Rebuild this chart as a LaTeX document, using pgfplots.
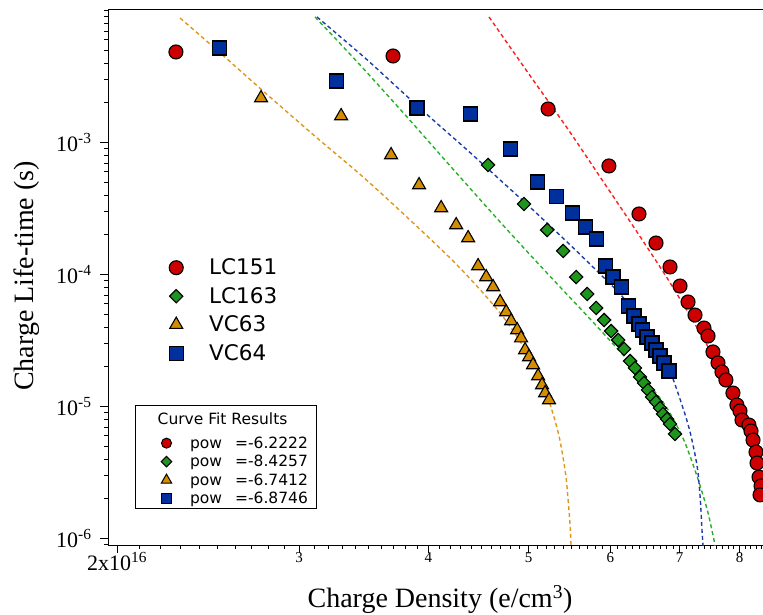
\documentclass[border=0pt]{standalone}
\usepackage{fontspec}
\setmainfont{Liberation Serif}
\newfontfamily\legfont{DejaVu Sans}
\usepackage{pgfplots}
\pgfplotsset{compat=1.18}

\definecolor{cRed}{RGB}{204,0,0}
\definecolor{cGreen}{RGB}{30,150,30}
\definecolor{cOrange}{RGB}{212,140,0}
\definecolor{cBlue}{RGB}{0,48,158}
\definecolor{lRed}{RGB}{255,30,30}
\definecolor{lGreen}{RGB}{40,175,40}
\definecolor{lBlue}{RGB}{30,60,170}
\definecolor{lOrange}{RGB}{222,150,30}

\pgfplotsset{
  legA/.style={legend image code/.code={\draw[##1] plot coordinates {(0pt,0pt)};}},
  legB/.style={legend image code/.code={\draw[##1] plot coordinates {(0pt,0pt)};\path (-23pt,0pt) (5.5pt,0pt);}},
  fitline/.style={line width=1.4pt, dash pattern=on 4pt off 3pt, smooth, tension=0.5, forget plot, no markers},
}
\newcommand\lstrutB{\rule[-3.2pt]{0pt}{14.7pt}}

\begin{document}
\begin{tikzpicture}[x=1pt,y=1pt]
\path[use as bounding box] (0,0) rectangle (763,615);
\begin{axis}[
  at={(108pt,70pt)}, anchor=south west, scale only axis,
  width=662pt, height=536pt,
  xmode=log, ymode=log,
  xmin=1.96, xmax=8.562, ymin=8.93e-7, ymax=1.026e-2,
  axis x line*=box, axis y line*=left,
  x axis line style={-, line width=0.8pt},
  y axis line style={-, line width=0.8pt},
  tick align=outside, xtick pos=left, ytick pos=left,
  major tick length=8pt, minor tick length=4pt,
  tick style={black, line width=0.7pt},
  xtick={2,3,4,5,6,7,8},
  xticklabels={{\raisebox{-4pt}{\fontsize{22}{22}\selectfont 2x10\textsuperscript{16}}},3,4,5,6,7,8},
  minor xtick={2.1,2.2,2.3,2.4,2.5,2.6,2.7,2.8,2.9,3.1,3.2,3.3,3.4,3.5,3.6,3.7,3.8,3.9,4.1,4.2,4.3,4.4,4.5,4.6,4.7,4.8,4.9,5.1,5.2,5.3,5.4,5.5,5.6,5.7,5.8,5.9,6.1,6.2,6.3,6.4,6.5,6.6,6.7,6.8,6.9,7.1,7.2,7.3,7.4,7.5,7.6,7.7,7.8,7.9,8.1,8.2,8.3,8.4,8.5},
  ytick={1e-6,1e-5,1e-4,1e-3},
  yticklabels={10\textsuperscript{-6},10\textsuperscript{-5},10\textsuperscript{-4},10\textsuperscript{-3}},
  minor ytick={9e-7,2e-6,3e-6,4e-6,5e-6,6e-6,7e-6,8e-6,9e-6,2e-5,3e-5,4e-5,5e-5,6e-5,7e-5,8e-5,9e-5,2e-4,3e-4,4e-4,5e-4,6e-4,7e-4,8e-4,9e-4,2e-3,3e-3,4e-3,5e-3,6e-3,7e-3,8e-3,9e-3,1e-2},
  xticklabel style={font=\fontsize{15}{15}\selectfont, yshift=4pt},
  yticklabel style={font=\fontsize{22}{22}\selectfont, xshift=-5pt},
  xlabel={Charge Density (e/cm\textsuperscript{3})},
  ylabel={Charge Life-time (s)},
  every axis x label/.style={at={(axis description cs:0.5015,-0.1157)}, anchor=base, font=\fontsize{28}{28}\selectfont},
  every axis y label/.style={at={(axis description cs:-0.1133,0.502)}, anchor=base, rotate=90, font=\fontsize{28}{28}\selectfont},
  legend cell align=left,
  legend style={at={(axis description cs:0.0925,0.5336)}, anchor=north west, draw=none, fill=none, inner sep=0pt, outer sep=0pt, row sep=11pt, column sep=26pt, nodes={inner sep=0pt}, font=\legfont\fontsize{21.5}{21.5}\selectfont},
]
% fit curves
\addplot[fitline, lOrange] coordinates {(2.301,8.77e-3)(2.510,4.85e-3)(2.768,2.456e-3)(3.122,1.083e-3)(3.459,5.48e-4)(3.841,2.588e-4)(4.227,1.265e-4)(4.519,7.24e-5)(4.767,4.36e-5)(5.017,2.33e-5)(5.212,1.200e-5)(5.329,6.85e-6)(5.389,4.52e-6)(5.437,2.87e-6)(5.461,1.957e-6)(5.485,1.265e-6)(5.497,8.8e-7)};
\addplot[fitline, lGreen] coordinates {(3.108,8.93e-3)(3.436,3.865e-3)(3.815,1.560e-3)(4.200,6.64e-4)(4.694,2.498e-4)(5.188,1.063e-4)(5.736,4.60e-5)(6.173,2.456e-5)(6.481,1.588e-5)(6.777,1.026e-5)(7.054,5.77e-6)(7.277,2.976e-6)(7.441,1.673e-6)(7.541,1.063e-6)(7.575,8.8e-7)};
\addplot[fitline, lBlue] coordinates {(3.122,8.93e-3)(3.474,4.37e-3)(3.756,2.498e-3)(4.043,1.481e-3)(4.362,8.77e-4)(4.694,5.20e-4)(5.051,3.08e-4)(5.449,1.763e-4)(5.865,1.009e-4)(6.131,7.12e-5)(6.410,4.68e-5)(6.628,3.19e-5)(6.853,1.857e-5)(7.054,9.74e-6)(7.166,6.41e-6)(7.277,3.60e-6)(7.326,2.14e-6)(7.359,1.160e-6)(7.376,8.8e-7)};
\addplot[fitline, lRed] coordinates {(4.579,8.93e-3)(5.051,2.976e-3)(5.449,1.288e-3)(5.865,5.48e-4)(6.311,2.33e-4)(6.702,1.140e-4)(6.960,7.12e-5)(7.441,2.923e-5)(7.831,1.334e-5)(8.189,6.08e-6)(8.562,2.33e-6)};
% data
\addplot[only marks, mark=*, mark size=7pt, draw=black, fill=cRed, line width=1.1pt, legA] coordinates {
(2.280,4.85e-3)(3.698,4.52e-3)(5.223,1.794e-3)(5.981,6.64e-4)(6.395,2.873e-4)(6.642,1.732e-4)(6.853,1.140e-4)(7.007,8.18e-5)(7.133,6.19e-5)(7.245,4.93e-5)(7.392,3.93e-5)(7.458,3.42e-5)(7.541,2.59e-5)(7.626,2.14e-5)(7.694,1.826e-5)(7.762,1.588e-5)(7.884,1.265e-5)(7.955,1.026e-5)(8.008,9.25e-6)(8.044,7.90e-6)(8.170,7.24e-6)(8.207,6.52e-6)(8.244,5.57e-6)(8.299,4.52e-6)(8.318,3.73e-6)(8.355,2.92e-6)(8.392,2.50e-6)(8.374,2.14e-6)};
\addlegendentry{LC151}
\addplot[only marks, mark=square*, mark options={rotate=45}, mark size=4.7pt, draw=black, fill=cGreen, line width=1.1pt, legA] coordinates {
(4.569,6.76e-4)(4.950,3.42e-4)(5.212,2.173e-4)(5.401,1.507e-4)(5.560,9.57e-5)(5.698,7.12e-5)(5.813,5.58e-5)(5.917,4.52e-5)(6.010,3.73e-5)(6.105,3.19e-5)(6.187,2.73e-5)(6.270,2.21e-5)(6.339,1.957e-5)(6.410,1.673e-5)(6.467,1.507e-5)(6.525,1.334e-5)(6.583,1.180e-5)(6.642,1.082e-5)(6.702,9.74e-6)(6.746,8.77e-6)(6.806,8.04e-6)(6.853,7.37e-6)(6.929,6.19e-6)};
\addlegendentry{LC163}
\addplot[only marks, mark=triangle*, mark size=7.5pt, draw=black, fill=cOrange, line width=1.1pt, legA] coordinates {
(2.756,2.173e-3)(3.294,1.588e-3)(3.682,8.04e-4)(3.919,4.76e-4)(4.116,3.19e-4)(4.256,2.371e-4)(4.371,1.890e-4)(4.469,1.160e-4)(4.550,9.57e-5)(4.621,8.04e-5)(4.694,6.19e-5)(4.757,5.20e-5)(4.810,4.44e-5)(4.875,3.80e-5)(4.918,3.30e-5)(4.962,2.68e-5)(5.006,2.371e-5)(5.051,2.063e-5)(5.108,1.702e-5)(5.153,1.455e-5)(5.188,1.265e-5)(5.234,1.120e-5)};
\addlegendentry{VC63}
\addplot[only marks, mark=square*, mark size=7pt, draw=black, fill=cBlue, line width=1.1pt, legA] coordinates {
(2.510,5.20e-3)(3.257,2.923e-3)(3.901,1.826e-3)(4.391,1.644e-3)(4.800,8.93e-4)(5.097,5.02e-4)(5.318,3.87e-4)(5.510,2.923e-4)(5.672,2.290e-4)(5.813,1.857e-4)(5.930,1.160e-4)(6.036,9.57e-5)(6.145,8.04e-5)(6.242,5.77e-5)(6.325,4.85e-5)(6.395,4.22e-5)(6.452,3.80e-5)(6.510,3.36e-5)(6.583,3.03e-5)(6.642,2.68e-5)(6.702,2.413e-5)(6.761,2.136e-5)(6.837,1.857e-5)};
\addlegendentry{VC64}
\end{axis}
\begin{axis}[
  at={(108pt,70pt)}, anchor=south west, scale only axis,
  width=662pt, height=536pt, hide axis,
  xmin=0, xmax=1, ymin=0, ymax=1,
  legend cell align=left,
  legend style={at={(axis description cs:0.04079,0.26119)}, anchor=north west, draw=black, line width=0.8pt, fill=white, inner xsep=8pt, inner ysep=3pt, outer sep=0pt, row sep=5.5pt, column sep=17.6pt, nodes={inner sep=0pt}, font=\legfont\fontsize{15.5}{15.5}\selectfont},
]
\addlegendimage{legend image code/.code={\path (0pt,-11.35pt) (0pt,11pt);}}
\addlegendentry{\lstrutB\hspace{-32.4pt}Curve Fit Results}
\addlegendimage{only marks, mark=*, mark size=5pt, draw=black, fill=cRed, line width=1pt, legB}
\addlegendentry{\lstrutB\makebox[45pt][l]{pow}=-6.2222}
\addlegendimage{only marks, mark=square*, mark options={rotate=45}, mark size=3.7pt, draw=black, fill=cGreen, line width=1pt, legB}
\addlegendentry{\lstrutB\makebox[45pt][l]{pow}=-8.4257}
\addlegendimage{only marks, mark=triangle*, mark size=6pt, draw=black, fill=cOrange, line width=1pt, legB}
\addlegendentry{\lstrutB\makebox[45pt][l]{pow}=-6.7412}
\addlegendimage{only marks, mark=square*, mark size=5pt, draw=black, fill=cBlue, line width=1pt, legB}
\addlegendentry{\lstrutB\makebox[45pt][l]{pow}=-6.8746}
\end{axis}
\end{tikzpicture}
\end{document}
